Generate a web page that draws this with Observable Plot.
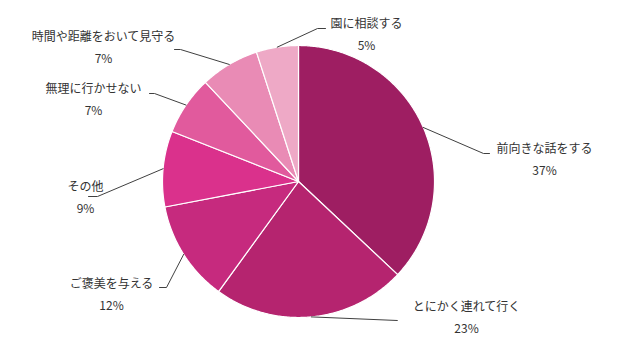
<!DOCTYPE html>
<html><head><meta charset="utf-8">
<script src="https://cdn.jsdelivr.net/npm/d3@7"></script>
<script src="https://cdn.jsdelivr.net/npm/@observablehq/plot@0.6"></script>
<style>body{margin:0;background:#fff;} svg{display:block}</style>
</head><body><div id="chart"></div>
<script>
// ---- data ----
const categories = ["前向きな話をする","とにかく連れて行く","ご褒美を与える","その他","無理に行かせない","時間や距離をおいて見守る","園に相談する"];
const values = [37, 23, 12, 9, 7, 7, 5];
const colors = ["#9E1E62","#B5246F","#C62A7E","#DA318C","#E15A9D","#E98BB5","#EEA9C6"];

// ---- layout ----
const CX = 298, CY = 181, R = 136;
// label centre (tx,ty), leader elbow (ex,ey), leader end (hx)
const labelLayout = [
  {tx:544, ty:149, ex:483, ey:153, hx:489},
  {tx:466, ty:307, ex:397, ey:320, hx:397},
  {tx:111, ty:284, ex:166, ey:287, hx:159},
  {tx:85,  ty:187, ex:97,  ey:196, hx:88},
  {tx:93,  ty:89,  ex:154, ey:93,  hx:149},
  {tx:103, ty:37,  ex:180, ey:49,  hx:174},
  {tx:366, ty:24,  ex:317, ey:28,  hx:325}
];

const arcs = d3.pie().sort(null).value(d => d)(values);

const slicePts = [];
arcs.forEach((a, i) => {
  slicePts.push({k: i, x: CX, y: CY, c: colors[i]});
  const n = Math.max(2, Math.ceil((a.endAngle - a.startAngle) / 0.01));
  for (let j = 0; j <= n; j++) {
    const t = a.startAngle + (a.endAngle - a.startAngle) * j / n;
    slicePts.push({k: i, x: CX + R * Math.sin(t), y: CY - R * Math.cos(t), c: colors[i]});
  }
});

const leaderPts = [];
arcs.forEach((a, i) => {
  const m = (a.startAngle + a.endAngle) / 2;
  const L = labelLayout[i];
  leaderPts.push({k: i, x: CX + R * Math.sin(m), y: CY - R * Math.cos(m)});
  leaderPts.push({k: i, x: L.ex, y: L.ey});
  leaderPts.push({k: i, x: L.hx, y: L.ey});
});

const labels = categories.map((c, i) => ({name: c, pct: values[i] + "%", x: labelLayout[i].tx, y: labelLayout[i].ty}));

const font = "'Noto Sans CJK JP', 'Noto Sans', sans-serif";
const chart = Plot.plot({
  width: 625, height: 356,
  margin: 0,
  style: {fontFamily: font, background: "#fff"},
  x: {domain: [0, 625], range: [0, 625], axis: null},
  y: {domain: [0, 356], range: [0, 356], axis: null},
  color: {type: "identity"},
  marks: [
    Plot.line(slicePts, {x: "x", y: "y", z: "k", fill: "c", stroke: "#fff", strokeWidth: 1.2, curve: "linear-closed"}),
    Plot.line(leaderPts, {x: "x", y: "y", z: "k", stroke: "#404040", strokeWidth: 1}),
    Plot.text(labels, {x: "x", y: "y", text: "name", fontSize: 12, fill: "#333", style: "letter-spacing:0.9px"}),
    Plot.text(labels, {x: "x", y: d => d.y + 22, text: "pct", fontSize: 12, fill: "#333", style: "letter-spacing:0.6px"})
  ]
});
document.getElementById("chart").append(chart);
</script>
</body></html>
